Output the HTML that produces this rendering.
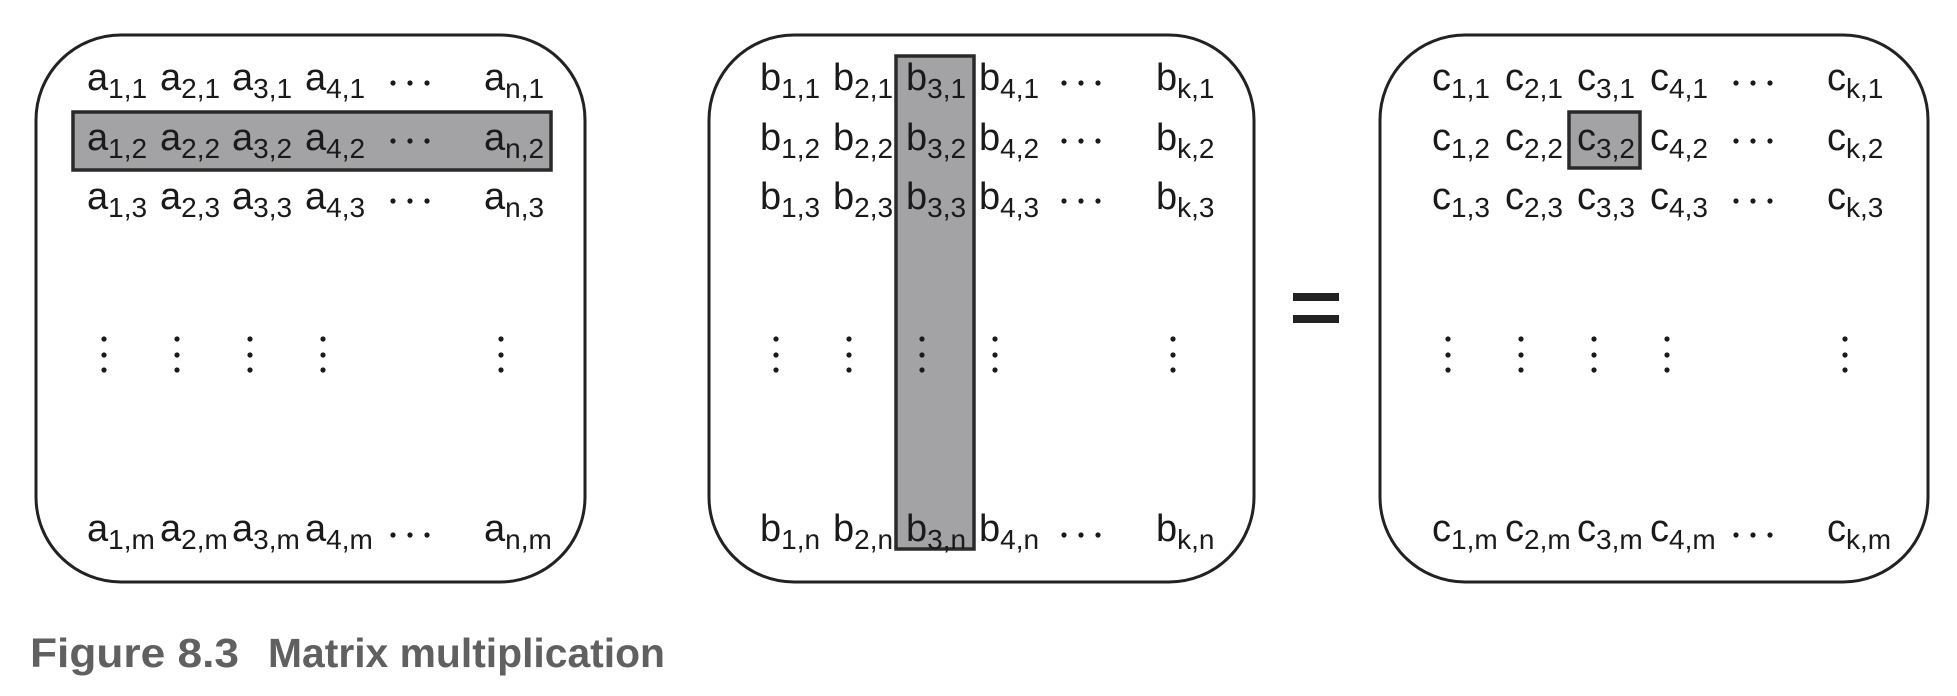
<!DOCTYPE html>
<html><head><meta charset="utf-8"><style>
html,body{margin:0;padding:0;background:#fff;}
svg{display:block;}
text{font-family:"Liberation Sans",sans-serif;fill:#1a1a1a;}
</style></head><body>
<svg width="1957" height="696" viewBox="0 0 1957 696" xmlns="http://www.w3.org/2000/svg">
<rect x="36" y="35" width="549" height="547" rx="85" fill="#fff" stroke="#222" stroke-width="3"/>
<rect x="709" y="35" width="545" height="547" rx="85" fill="#fff" stroke="#222" stroke-width="3"/>
<rect x="1380" y="35" width="548" height="547" rx="85" fill="#fff" stroke="#222" stroke-width="3"/>
<rect x="73" y="112" width="478" height="58" fill="#a3a3a5" stroke="#2a2a2a" stroke-width="3.5"/>
<rect x="896" y="56" width="78" height="493" fill="#a3a3a5" stroke="#2a2a2a" stroke-width="3.5"/>
<rect x="1569" y="112" width="71" height="56" fill="#a3a3a5" stroke="#2a2a2a" stroke-width="3.5"/>
<rect x="1293" y="293" width="46" height="8" fill="#222"/>
<rect x="1293" y="315" width="46" height="8" fill="#222"/>
<g font-size="38">
<text x="87" y="90">a<tspan font-size="28" dy="8">1,1</tspan></text>
<text x="160" y="90">a<tspan font-size="28" dy="8">2,1</tspan></text>
<text x="232" y="90">a<tspan font-size="28" dy="8">3,1</tspan></text>
<text x="305" y="90">a<tspan font-size="28" dy="8">4,1</tspan></text>
<text x="484" y="90">a<tspan font-size="28" dy="8">n,1</tspan></text>
<text x="87" y="150">a<tspan font-size="28" dy="8">1,2</tspan></text>
<text x="160" y="150">a<tspan font-size="28" dy="8">2,2</tspan></text>
<text x="232" y="150">a<tspan font-size="28" dy="8">3,2</tspan></text>
<text x="305" y="150">a<tspan font-size="28" dy="8">4,2</tspan></text>
<text x="484" y="150">a<tspan font-size="28" dy="8">n,2</tspan></text>
<text x="87" y="209">a<tspan font-size="28" dy="8">1,3</tspan></text>
<text x="160" y="209">a<tspan font-size="28" dy="8">2,3</tspan></text>
<text x="232" y="209">a<tspan font-size="28" dy="8">3,3</tspan></text>
<text x="305" y="209">a<tspan font-size="28" dy="8">4,3</tspan></text>
<text x="484" y="209">a<tspan font-size="28" dy="8">n,3</tspan></text>
<text x="87" y="541">a<tspan font-size="28" dy="8">1,m</tspan></text>
<text x="160" y="541">a<tspan font-size="28" dy="8">2,m</tspan></text>
<text x="232" y="541">a<tspan font-size="28" dy="8">3,m</tspan></text>
<text x="305" y="541">a<tspan font-size="28" dy="8">4,m</tspan></text>
<text x="484" y="541">a<tspan font-size="28" dy="8">n,m</tspan></text>
<text x="760" y="90">b<tspan font-size="28" dy="8">1,1</tspan></text>
<text x="833" y="90">b<tspan font-size="28" dy="8">2,1</tspan></text>
<text x="906" y="90">b<tspan font-size="28" dy="8">3,1</tspan></text>
<text x="979" y="90">b<tspan font-size="28" dy="8">4,1</tspan></text>
<text x="1156" y="90">b<tspan font-size="28" dy="8">k,1</tspan></text>
<text x="760" y="150">b<tspan font-size="28" dy="8">1,2</tspan></text>
<text x="833" y="150">b<tspan font-size="28" dy="8">2,2</tspan></text>
<text x="906" y="150">b<tspan font-size="28" dy="8">3,2</tspan></text>
<text x="979" y="150">b<tspan font-size="28" dy="8">4,2</tspan></text>
<text x="1156" y="150">b<tspan font-size="28" dy="8">k,2</tspan></text>
<text x="760" y="209">b<tspan font-size="28" dy="8">1,3</tspan></text>
<text x="833" y="209">b<tspan font-size="28" dy="8">2,3</tspan></text>
<text x="906" y="209">b<tspan font-size="28" dy="8">3,3</tspan></text>
<text x="979" y="209">b<tspan font-size="28" dy="8">4,3</tspan></text>
<text x="1156" y="209">b<tspan font-size="28" dy="8">k,3</tspan></text>
<text x="760" y="541">b<tspan font-size="28" dy="8">1,n</tspan></text>
<text x="833" y="541">b<tspan font-size="28" dy="8">2,n</tspan></text>
<text x="906" y="541">b<tspan font-size="28" dy="8">3,n</tspan></text>
<text x="979" y="541">b<tspan font-size="28" dy="8">4,n</tspan></text>
<text x="1156" y="541">b<tspan font-size="28" dy="8">k,n</tspan></text>
<text x="1432" y="90">c<tspan font-size="28" dy="8">1,1</tspan></text>
<text x="1505" y="90">c<tspan font-size="28" dy="8">2,1</tspan></text>
<text x="1577" y="90">c<tspan font-size="28" dy="8">3,1</tspan></text>
<text x="1650" y="90">c<tspan font-size="28" dy="8">4,1</tspan></text>
<text x="1827" y="90">c<tspan font-size="28" dy="8">k,1</tspan></text>
<text x="1432" y="150">c<tspan font-size="28" dy="8">1,2</tspan></text>
<text x="1505" y="150">c<tspan font-size="28" dy="8">2,2</tspan></text>
<text x="1577" y="150">c<tspan font-size="28" dy="8">3,2</tspan></text>
<text x="1650" y="150">c<tspan font-size="28" dy="8">4,2</tspan></text>
<text x="1827" y="150">c<tspan font-size="28" dy="8">k,2</tspan></text>
<text x="1432" y="209">c<tspan font-size="28" dy="8">1,3</tspan></text>
<text x="1505" y="209">c<tspan font-size="28" dy="8">2,3</tspan></text>
<text x="1577" y="209">c<tspan font-size="28" dy="8">3,3</tspan></text>
<text x="1650" y="209">c<tspan font-size="28" dy="8">4,3</tspan></text>
<text x="1827" y="209">c<tspan font-size="28" dy="8">k,3</tspan></text>
<text x="1432" y="541">c<tspan font-size="28" dy="8">1,m</tspan></text>
<text x="1505" y="541">c<tspan font-size="28" dy="8">2,m</tspan></text>
<text x="1577" y="541">c<tspan font-size="28" dy="8">3,m</tspan></text>
<text x="1650" y="541">c<tspan font-size="28" dy="8">4,m</tspan></text>
<text x="1827" y="541">c<tspan font-size="28" dy="8">k,m</tspan></text>
</g>
<g fill="#1a1a1a">
<g id="hd">
<circle cx="393" cy="83" r="2.6"/><circle cx="410" cy="83" r="2.6"/><circle cx="427" cy="83" r="2.6"/>
<circle cx="393" cy="141" r="2.6"/><circle cx="410" cy="141" r="2.6"/><circle cx="427" cy="141" r="2.6"/>
<circle cx="393" cy="201" r="2.6"/><circle cx="410" cy="201" r="2.6"/><circle cx="427" cy="201" r="2.6"/>
<circle cx="393" cy="535" r="2.6"/><circle cx="410" cy="535" r="2.6"/><circle cx="427" cy="535" r="2.6"/>
</g>
<use href="#hd" x="671"/>
<use href="#hd" x="1343"/>
<g id="vd">
<circle cx="104" cy="339" r="2.6"/><circle cx="104" cy="355" r="2.6"/><circle cx="104" cy="370" r="2.6"/>
<circle cx="177" cy="339" r="2.6"/><circle cx="177" cy="355" r="2.6"/><circle cx="177" cy="370" r="2.6"/>
<circle cx="250" cy="339" r="2.6"/><circle cx="250" cy="355" r="2.6"/><circle cx="250" cy="370" r="2.6"/>
<circle cx="323" cy="339" r="2.6"/><circle cx="323" cy="355" r="2.6"/><circle cx="323" cy="370" r="2.6"/>
<circle cx="501" cy="339" r="2.6"/><circle cx="501" cy="355" r="2.6"/><circle cx="501" cy="370" r="2.6"/>
</g>
<use href="#vd" x="672"/>
<use href="#vd" x="1344"/>
</g>
<text x="30" y="667" font-size="41" font-weight="bold" style="fill:#606060" textLength="209" lengthAdjust="spacingAndGlyphs">Figure 8.3</text>
<text x="268" y="667" font-size="41" font-weight="bold" style="fill:#606060" textLength="397" lengthAdjust="spacingAndGlyphs">Matrix multiplication</text>
</svg>
</body></html>
